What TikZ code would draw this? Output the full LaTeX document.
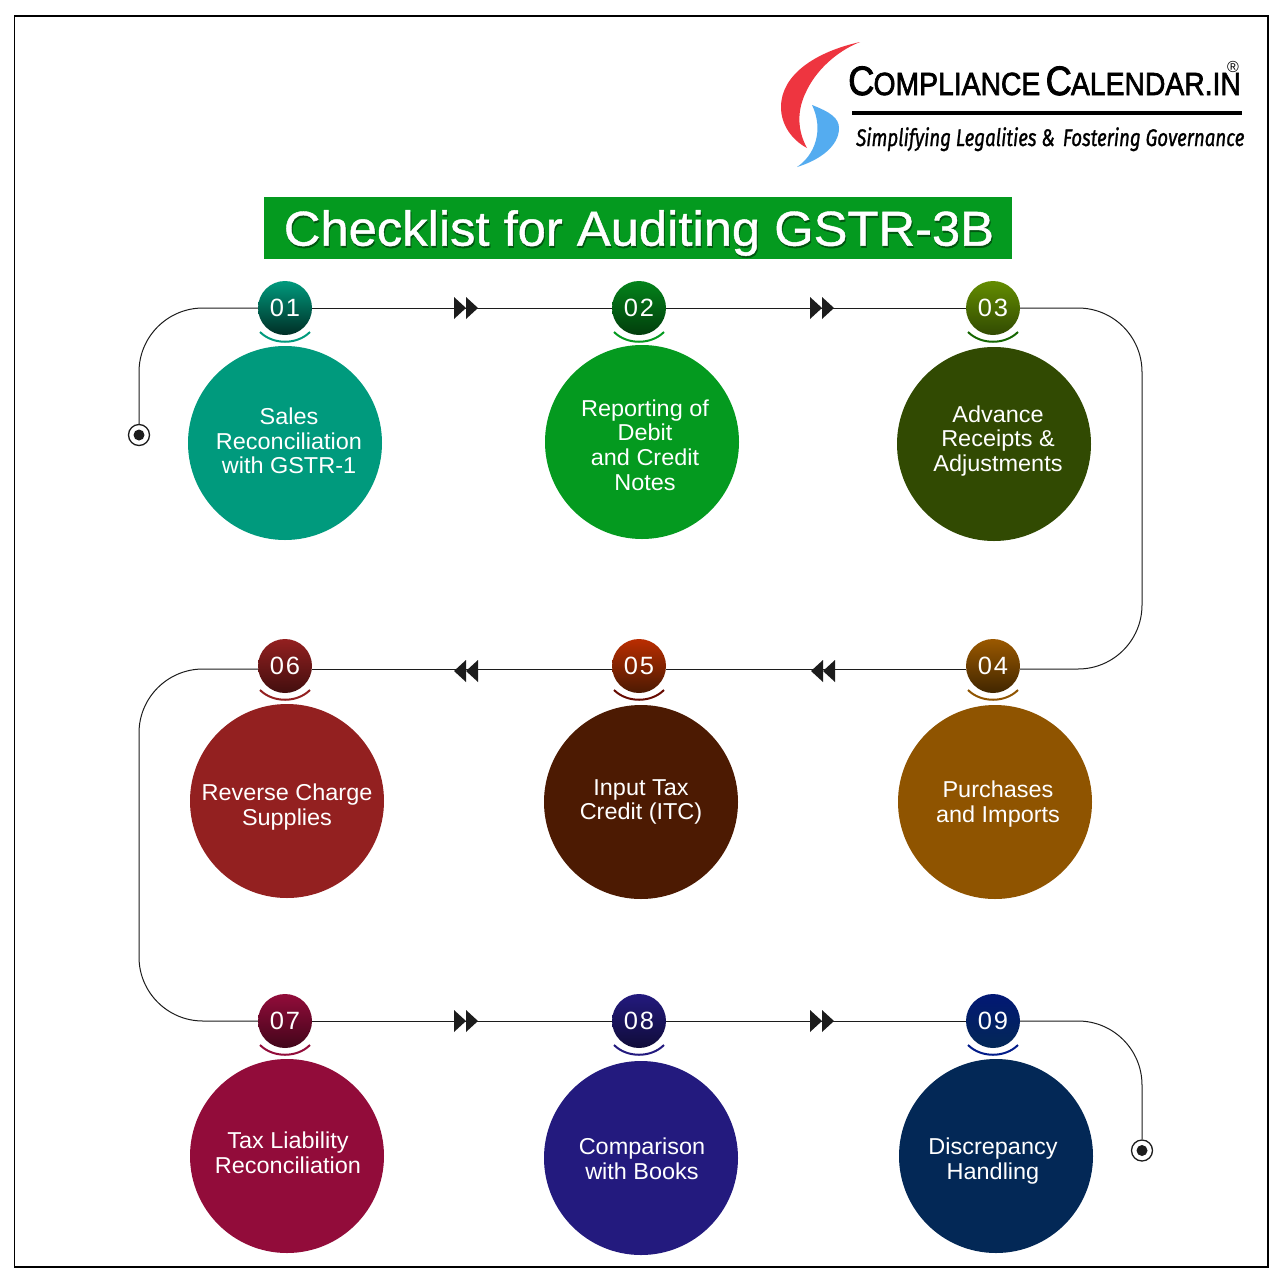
\documentclass[tikz,border=0pt]{standalone}
\usepackage{fontspec}
\setmainfont[FakeStretch=1.02]{Liberation Sans}
\newfontfamily\logofont{Liberation Sans}
\newfontfamily\tagfont{Fira Sans}
\newfontfamily\titlefont[FakeBold=0.9]{Liberation Sans}
\definecolor{c1}{HTML}{009A7D}\definecolor{c2}{HTML}{049A1F}\definecolor{c3}{HTML}{314A02}
\definecolor{c4}{HTML}{8F5400}\definecolor{c5}{HTML}{4C1A02}\definecolor{c6}{HTML}{932020}
\definecolor{c7}{HTML}{920C3A}\definecolor{c8}{HTML}{231A7E}\definecolor{c9}{HTML}{032856}
\definecolor{ink}{HTML}{1C1C1C}
\tikzset{
  big/.style={circle,minimum size=194pt,inner sep=0pt,fill=#1},
  num/.style 2 args={circle,minimum size=54pt,inner sep=0pt,top color=#1,middle color=#1,bottom color=#2,text=white,
    font=\fontsize{25}{25}\selectfont\addfontfeatures{LetterSpace=8}},
  lab/.style={text=white,align=center,inner sep=0pt,font=\fontsize{23}{24.6}\selectfont},
  wire/.style={draw=ink,line width=1pt},
  smile/.style={line width=2pt,draw=#1},
  endmark/.style={circle,draw=ink,fill=white,line width=1.3pt,minimum size=21pt,inner sep=0pt},
  dblr/.pic={\fill[ink] (-12,-11)--(0,0)--(-12,11)--cycle;\fill[ink] (0,-11)--(12,0)--(0,11)--cycle;},
}
\begin{document}
\begin{tikzpicture}[x=1pt,y=-1pt]
\useasboundingbox (0,0) rectangle (1280,1280);
\fill[white] (0,0) rectangle (1280,1280);
\draw[black,line width=1.6pt] (14.5,16) rectangle (1268,1267);
% logo
\fill[fill={rgb,255:red,238;green,53;blue,64}] (860,42) .. controls (815,52) and (781,75) .. (781,107) .. controls (781,125) and (792,140) .. (807,148) .. controls (797,130) and (797,110) .. (806,92) .. controls (815,72) and (835,52) .. (860,42) -- cycle;
\fill[fill={rgb,255:red,84;green,172;blue,240}] (812,105) .. controls (830,112) and (839,118) .. (839,128) .. controls (839,146) and (820,160) .. (797,167) .. controls (815,155) and (824,130) .. (812,105) -- cycle;
\node[anchor=base west,inner sep=0pt,font=\logofont\addfontfeatures{FakeBold=2.2}] (brand) at (848,95) {\scalebox{0.885}[1]{\fontsize{41}{41}\selectfont C\kern-1pt\fontsize{32}{32}\selectfont OMPLIANCE\kern6pt\fontsize{41}{41}\selectfont C\kern-1pt\fontsize{32}{32}\selectfont ALENDAR.IN}};
\node[inner sep=0pt,font=\logofont\fontsize{16}{16}\selectfont] (reg) at (1233,67) {®};
\fill[black] (852,110.5) rectangle (1242,115);
\node[anchor=base west,inner sep=0pt,font=\tagfont\addfontfeatures{FakeBold=1.2}\fontsize{24}{24}\selectfont\itshape] (tag) at (856,146) {\scalebox{0.78}[1]{Simplifying Legalities \& \,Fostering Governance}};
% title
\fill[c2] (264,197) rectangle (1012,259);
\node[font=\titlefont\fontsize{49}{49}\selectfont,text=black!45!c2,inner sep=0pt] (titleshadow) at (640,235) {\scalebox{1.035}[1]{Checklist for Auditing GSTR-3B}};
\node[font=\titlefont\fontsize{49}{49}\selectfont,text=white,inner sep=0pt] (title) at (639,233) {\scalebox{1.035}[1]{Checklist for Auditing GSTR-3B}};
% big circles
\node[big=c1] (b1) at (285,443) {};
\node[big=c2] (b2) at (642,442) {};
\node[big=c3] (b3) at (994,444) {};
\node[big=c4] (b4) at (995,802) {};
\node[big=c5] (b5) at (641,802) {};
\node[big=c6] (b6) at (287,801) {};
\node[big=c7] (b7) at (287,1156) {};
\node[big=c8] (b8) at (641,1158) {};
\node[big=c9] (b9) at (996,1156) {};
\node[lab] (l1) at (289,441) {Sales\\Reconciliation\\with GSTR-1};
\node[lab] (l2) at (645,445) {Reporting of\\Debit\\and Credit\\Notes};
\node[lab] (l3) at (998,441) {Advance\\Receipts \&\\Adjustments};
\node[lab] (l4) at (998,804) {Purchases\\and Imports};
\node[lab] (l5) at (641,802) {Input Tax\\Credit (ITC)};
\node[lab] (l6) at (287,807) {Reverse Charge\\Supplies};
\node[lab] (l7) at (288,1153) {Tax Liability\\Reconciliation};
\node[lab] (l8) at (642,1159) {Comparison\\with Books};
\node[lab] (l9) at (993,1161) {Discrepancy\\Handling};
% number circles
\node[num={c1}{black!70!c1}] (n1) at (285,308) {01};
\node[num={c2!85!black}{black!60!c2}] (n2) at (639,308) {02};
\node[num={c3!60!green!50!yellow!70!black}{c3}] (n3) at (993,308) {03};
\node[num={c4!90!orange}{black!55!c4}] (n4) at (993,666) {04};
\node[num={black!25!c5!50!red!70!orange}{c5}] (n5) at (639,666) {05};
\node[num={c6}{black!55!c6}] (n6) at (285,666) {06};
\node[num={c7}{black!55!c7}] (n7) at (285,1021) {07};
\node[num={c8}{black!55!c8}] (n8) at (639,1021) {08};
\node[num={c9!70!blue!85!black}{c9}] (n9) at (993,1021) {09};
% smiles
\foreach \x/\y/\c in {285/308/c1,639/308/c2,993/308/c3!60!green!70!black,993/666/c4,639/666/c5!60!red!70!black,285/666/c6,285/1021/c7,639/1021/c8,993/1021/c9!70!blue}
  \draw[smile=\c] (\x-25,\y+24) .. controls (\x-12,\y+37) and (\x+12,\y+37) .. (\x+25,\y+24);
% end marks
\node[endmark] (s) at (139,435) {};
\node[endmark] (e) at (1142,1150.5) {};
\fill[ink] (s.center) circle (5.5);
\fill[ink] (e.center) circle (5.5);
% connectors
\draw[wire,rounded corners=64pt] (s.north) |- (n1.west);
\draw[wire] (n1)--(n2);
\draw[wire] (n2)--(n3);
\draw[wire,rounded corners=64pt] (n3.east) -| (1142,490) |- ([yshift=-3pt]n4.east);
\draw[wire] ([yshift=-3pt]n4.west)--([yshift=-3pt]n5.east);
\draw[wire] ([yshift=-3pt]n5.west)--([yshift=-3pt]n6.east);
\draw[wire,rounded corners=64pt] ([yshift=-3pt]n6.west) -| (139,850) |- (n7.west);
\draw[wire] (n7)--(n8);
\draw[wire] (n8)--(n9);
\draw[wire,rounded corners=64pt] (n9.east) -| (e.north);
% arrow marks
\pic at (466,308) {dblr};
\pic at (822,308) {dblr};
\pic[xscale=-1] at (466,671) {dblr};
\pic[xscale=-1] at (823,671) {dblr};
\pic at (466,1021) {dblr};
\pic at (822,1021) {dblr};
\end{tikzpicture}
\end{document}
